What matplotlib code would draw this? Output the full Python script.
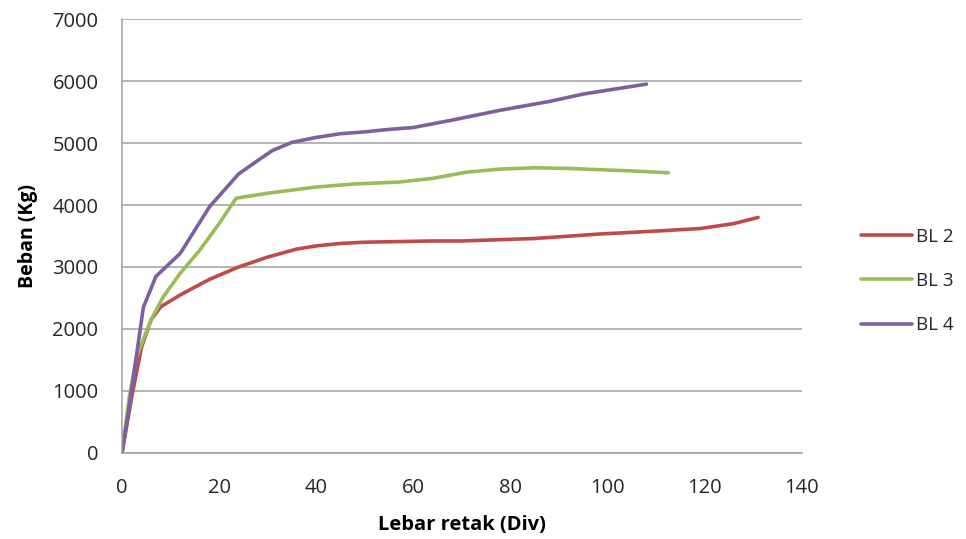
import matplotlib
matplotlib.use("Agg")
import matplotlib.pyplot as plt

# ============================================================
# DATA
# ============================================================
bl2_x = [0, 2, 4, 6, 8, 12, 18, 24, 30, 36, 40, 45, 50, 57, 64, 70, 85, 98, 110, 119, 126, 131]
bl2_y = [0, 900, 1700, 2150, 2360, 2550, 2800, 3000, 3160, 3290, 3340, 3380, 3400, 3410, 3420, 3420, 3460, 3530, 3580, 3620, 3700, 3800]

bl3_x = [0, 1.5, 3, 6, 8.5, 12, 16, 20, 23.5, 30, 35, 40, 48, 57, 64, 71, 78, 85, 92, 98, 105, 112.5]
bl3_y = [0, 900, 1550, 2150, 2520, 2900, 3270, 3700, 4110, 4190, 4240, 4290, 4340, 4370, 4430, 4530, 4580, 4600, 4590, 4570, 4550, 4520]

bl4_x = [0, 1, 2.3, 4.4, 7, 12, 18, 24, 28, 31, 35, 40, 45, 50, 55, 60, 68, 78, 88, 95, 108]
bl4_y = [0, 500, 1200, 2350, 2850, 3220, 3970, 4500, 4720, 4880, 5010, 5090, 5150, 5180, 5220, 5250, 5370, 5530, 5670, 5790, 5950]

labels = ["BL 2", "BL 3", "BL 4"]
colors = ["#BE4B48", "#9BBB59", "#7D60A0"]

x_ticks = list(range(0, 141, 20))
y_ticks = list(range(0, 7001, 1000))

# ============================================================
# PLOT
# ============================================================
plt.rcParams["font.family"] = ["Open Sans", "DejaVu Sans"]

fig = plt.figure(figsize=(9.66, 5.39), dpi=100)
ax = fig.add_axes([0.1263, 0.1596, 0.7037, 0.8051])

for xs, ys, lab, col in zip([bl2_x, bl3_x, bl4_x], [bl2_y, bl3_y, bl4_y], labels, colors):
    ax.plot(xs, ys, color=col, lw=2.6, label=lab, solid_joinstyle="round", solid_capstyle="round")

ax.set_xlim(0, 140)
ax.set_ylim(0, 7000)
ax.set_xticks(x_ticks)
ax.set_yticks(y_ticks)
ax.grid(axis="y", color="#A0A0A0", lw=1.1)
ax.set_axisbelow(True)

for s in ["top", "right"]:
    ax.spines[s].set_visible(False)
for s in ["left", "bottom"]:
    ax.spines[s].set_color("#A0A0A0")
    ax.spines[s].set_linewidth(1.1)
ax.tick_params(axis="both", labelcolor="#262626", labelsize=14.5, length=0)
ax.tick_params(axis="y", pad=17)
ax.tick_params(axis="x", pad=18)

ax.set_xlabel("Lebar retak (Div)", fontsize=14.5, fontweight="bold", labelpad=12)
ax.set_ylabel("Beban (Kg)", fontsize=14, fontweight="bold", labelpad=10)

leg = fig.legend(loc="center left", bbox_to_anchor=(0.874, 0.479), frameon=False,
                 fontsize=13.5, handlelength=2.7, handletextpad=0.25, labelspacing=1.4)
for t in leg.get_texts():
    t.set_color("#262626")

fig.savefig("out.png", dpi=100, facecolor="white")
